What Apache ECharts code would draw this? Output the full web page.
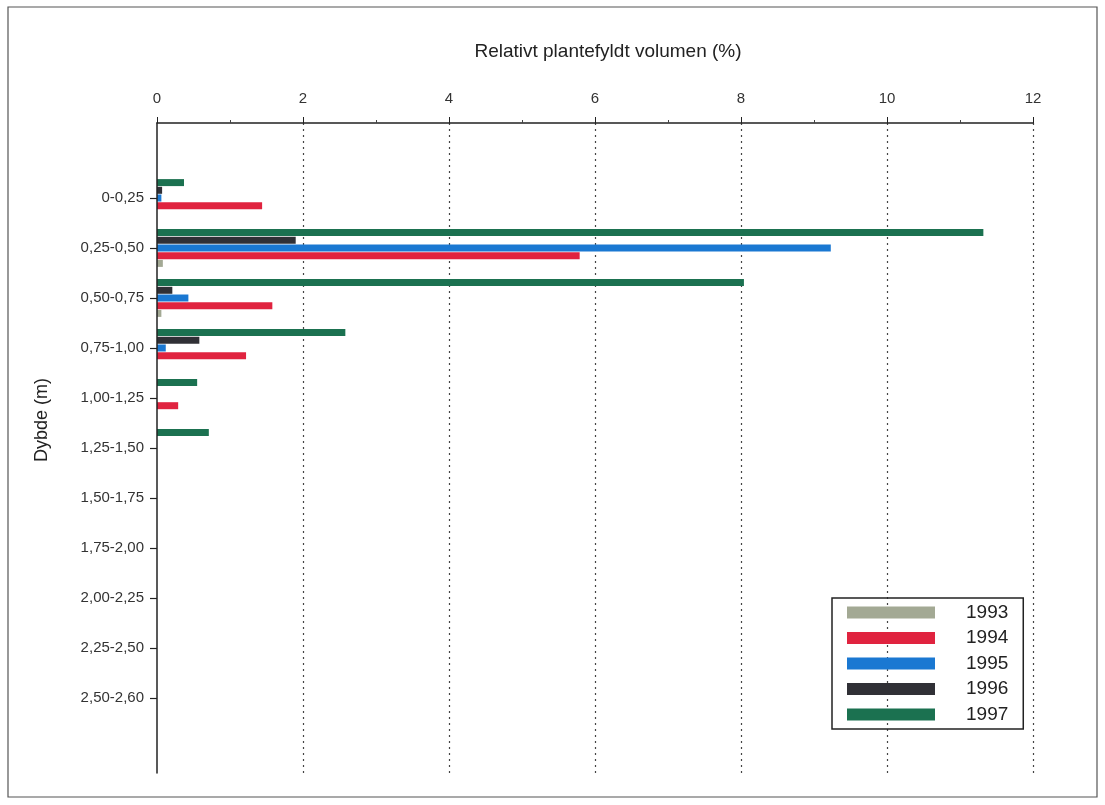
<!DOCTYPE html>
<html>
<head>
<meta charset="utf-8">
<script src="https://cdn.jsdelivr.net/npm/echarts@6/dist/echarts.min.js"></script>
<style>
html,body{margin:0;padding:0;background:#fff;}
#chart{width:1105px;height:805px;}
</style>
</head>
<body>
<div id="chart"></div>
<script>
// Depth categories (top to bottom)
const depths = ['0-0,25','0,25-0,50','0,50-0,75','0,75-1,00','1,00-1,25','1,25-1,50','1,50-1,75','1,75-2,00','2,00-2,25','2,25-2,50','2,50-2,60'];
const years = ['1993','1994','1995','1996','1997'];
// Relative plant-filled volume (%) per depth
const v1993 = [0, 0.08, 0.06, 0, 0, 0, 0, 0, 0, 0, 0];
const v1994 = [1.44, 5.79, 1.58, 1.22, 0.29, 0, 0, 0, 0, 0, 0];
const v1995 = [0.06, 9.23, 0.43, 0.12, 0, 0, 0, 0, 0, 0, 0];
const v1996 = [0.07, 1.90, 0.21, 0.58, 0, 0, 0, 0, 0, 0, 0];
const v1997 = [0.37, 11.32, 8.04, 2.58, 0.55, 0.71, 0, 0, 0, 0, 0];
const xTicks = [0, 2, 4, 6, 8, 10, 12];

const colors = {'1993':'#a3a994','1994':'#e0233f','1995':'#1a78d2','1996':'#303036','1997':'#1b7150'};
const valuesByYear = {'1993':v1993,'1994':v1994,'1995':v1995,'1996':v1996,'1997':v1997};

const cats = [''].concat(depths).concat(['']);
const pad = arr => [null].concat(arr).concat([null]);
const FONT = 'Liberation Sans, Arial, Helvetica, sans-serif';

// series order: 1997 on top of each group, 1993 at bottom
const seriesOrder = ['1997','1996','1995','1994','1993'];
const series = seriesOrder.map(y => ({
  name: y,
  type: 'bar',
  data: pad(valuesByYear[y]),
  barWidth: 7,
  barGap: '10%',
  itemStyle: {color: colors[y]},
  emphasis: {disabled: true}
}));

const chart = echarts.init(document.getElementById('chart'));
chart.setOption({
  animation: false,
  backgroundColor: '#fff',
  textStyle: {fontFamily: FONT},
  graphic: [
    {type:'rect', shape:{x:8, y:7, width:1089, height:790}, style:{fill:'none', stroke:'#555', lineWidth:1.2}, silent:true},
    {type:'text', x:608, y:52, style:{text:'Relativt plantefyldt volumen (%)', font:'19px ' + FONT, fill:'#222', align:'center', verticalAlign:'middle'}},
    {type:'text', x:42, y:420, rotation:Math.PI/2, style:{text:'Dybde (m)', font:'18px ' + FONT, fill:'#222', align:'center', verticalAlign:'middle'}}
  ],
  legend: {
    data: years,
    orient: 'vertical',
    left: 832,
    top: 598,
    padding: [5, 15, 5, 15],
    itemWidth: 88,
    itemHeight: 12,
    itemGap: 6.5,
    icon: 'rect',
    borderColor: '#222',
    borderWidth: 1.5,
    textStyle: {fontSize: 19, color: '#222', fontFamily: FONT, lineHeight: 18, padding: [0,0,0,26]},
    selectedMode: false
  },
  grid: {left: 157, right: 72, top: 123, bottom: 32, containLabel: false},
  xAxis: {
    type: 'value',
    position: 'top',
    min: 0, max: 12, interval: 2,
    axisLine: {show: true, lineStyle: {color: '#222', width: 1.5}},
    axisTick: {show: true, inside: false, length: 6, lineStyle: {color: '#222', width: 1}},
    minorTick: {show: true, splitNumber: 2, length: 3, lineStyle: {color: '#444'}},
    axisLabel: {margin: 17, fontSize: 15, color: '#333', fontFamily: FONT,
      customValues: xTicks},
    splitLine: {show: true, showMinLine: false, lineStyle: {color: '#444', width: 1.2, type: [2, 4]}}
  },
  yAxis: {
    type: 'category',
    inverse: true,
    z: 5,
    data: cats,
    axisLine: {show: true, lineStyle: {color: '#222', width: 1.5}},
    axisTick: {show: true, alignWithLabel: true, length: 7, lineStyle: {color: '#222', width: 1.2},
      interval: (i, v) => v !== ''},
    axisLabel: {margin: 13, fontSize: 15, color: '#333', fontFamily: FONT,
      interval: (i, v) => v !== ''},
    splitLine: {show: false}
  },
  series: series
});
</script>
</body>
</html>
